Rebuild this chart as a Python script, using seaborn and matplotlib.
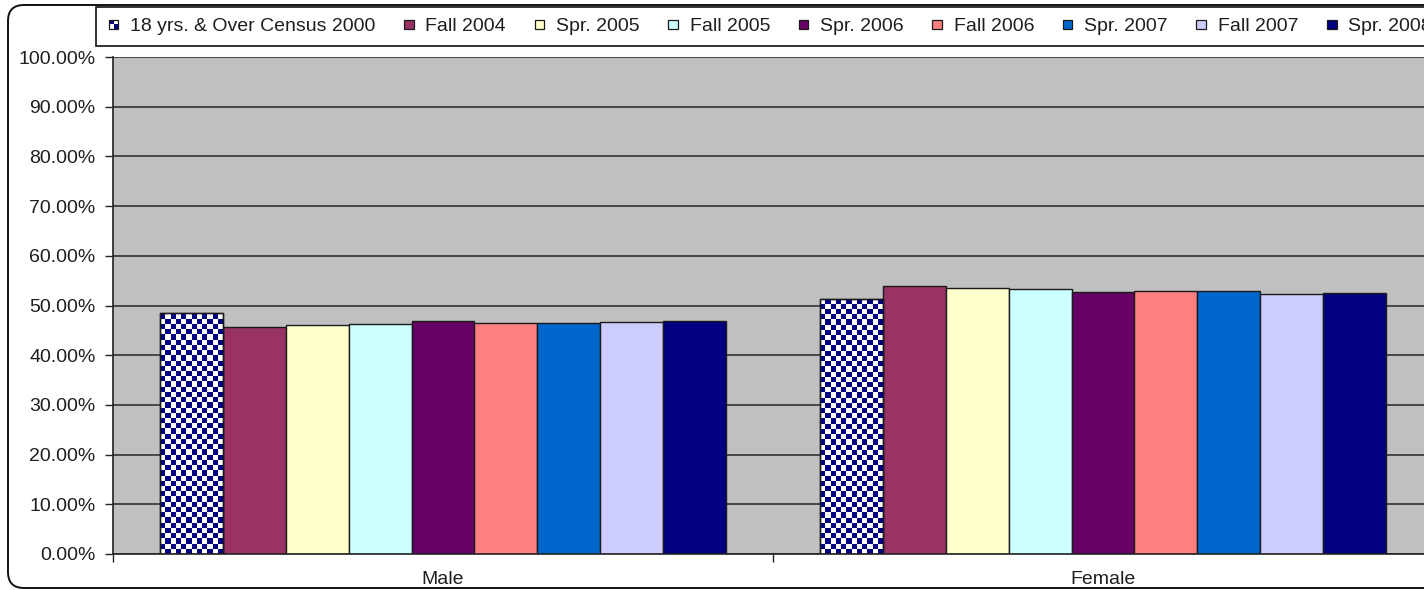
import numpy as np
import pandas as pd
import matplotlib
matplotlib.use('Agg')
import matplotlib.pyplot as plt
import seaborn as sns
from matplotlib.patches import Rectangle, FancyBboxPatch
from matplotlib.collections import PatchCollection
from matplotlib.legend_handler import HandlerBase
from matplotlib.ticker import PercentFormatter, FixedLocator
from matplotlib.transforms import IdentityTransform

# Gender share per survey wave (percent)
genders = ["Male", "Female"]
periods = ["18 yrs. & Over Census 2000", "Fall 2004", "Spr. 2005", "Fall 2005",
           "Spr. 2006", "Fall 2006", "Spr. 2007", "Fall 2007", "Spr. 2008"]
male = [48.4, 45.7, 46.0, 46.2, 46.8, 46.5, 46.5, 46.7, 46.8]
female = [51.4, 53.9, 53.6, 53.4, 52.8, 53.0, 52.9, 52.4, 52.6]

colors = ["#FFFFFF", "#993366", "#FFFFCC", "#CCFFFF", "#660066",
          "#FF8080", "#0066CC", "#CCCCFF", "#000080"]
navy = "#000080"

df = pd.DataFrame({
    "gender": np.repeat(genders, len(periods)),
    "period": periods * len(genders),
    "value": male + female,
})

sns.set_style("ticks")
plt.rcParams['font.family'] = ['Liberation Sans', 'DejaVu Sans']
text_col = "#1e1e1e"

fig = plt.figure(figsize=(14.24, 5.90), dpi=100)
ax = fig.add_axes([113 / 1424, 36 / 590, 1320 / 1424, 497 / 590])
ax.set_facecolor("#C0C0C0")

sns.barplot(data=df, x="gender", y="value", hue="period", order=genders,
            hue_order=periods, palette=colors, saturation=1, width=0.857,
            edgecolor="#1a1a1a", linewidth=1.0, legend=False, ax=ax)

ax.set_axisbelow(True)
ax.yaxis.grid(True, color="#333333", linewidth=1.2)
ax.xaxis.grid(False)
ax.set_xlim(-0.5, 1.5)
ax.set_ylim(0, 100)

# checkered fill for the census bars (navy squares on white)
fig.canvas.draw()
for bar in ax.containers[0]:
    x0, w, h = bar.get_x(), bar.get_width(), bar.get_height()
    p0 = ax.transData.transform((x0, 0))
    p1 = ax.transData.transform((x0 + w, h))
    ncol = max(int(round((p1[0] - p0[0]) / 5.2)), 1)
    nrow = max(int(round((p1[1] - p0[1]) / 5.2)), 1)
    cw, ch = w / ncol, h / nrow
    cells = [Rectangle((x0 + i * cw, j * ch), cw, ch)
             for i in range(ncol) for j in range(nrow) if (i + j) % 2 == 1]
    coll = PatchCollection(cells, facecolor=navy, edgecolor="none",
                           antialiased=False, zorder=2.5)
    ax.add_collection(coll)
    bar.set_facecolor("white")
    bar.set_zorder(2.2)
    ax.add_patch(Rectangle((x0, 0), w, h, facecolor="none", edgecolor="#1a1a1a",
                           linewidth=1.0, zorder=3))

ax.set_xlabel("")
ax.set_ylabel("")

ax.yaxis.set_major_locator(FixedLocator(np.arange(0, 101, 10)))
ax.yaxis.set_major_formatter(PercentFormatter(decimals=2))
ax.tick_params(axis="y", direction="out", length=5.5, width=1.0, color="#222222",
               pad=7, labelsize=14, labelcolor=text_col)
ax.set_xticks(range(len(genders)))
ax.set_xticklabels(genders)
ax.set_xticks([-0.5, 0.5, 1.5], minor=True)
ax.tick_params(axis="x", which="major", length=0, pad=12, labelsize=14,
               labelcolor=text_col)
ax.tick_params(axis="x", which="minor", direction="out", length=6, width=1.0,
               color="#222222")

for side in ["top", "right"]:
    ax.spines[side].set_visible(False)
for side in ["left", "bottom"]:
    ax.spines[side].set_color("#222222")
    ax.spines[side].set_linewidth(1.2)


class SquareHandler(HandlerBase):
    def __init__(self, checker=False):
        super().__init__()
        self.checker = checker

    def create_artists(self, legend, orig_handle, xdescent, ydescent,
                       width, height, fontsize, trans):
        s = 0.5 * fontsize
        x = width - s - xdescent
        y = (height - s) / 2 - ydescent
        arts = []
        if self.checker:
            half = s / 2
            for i in range(2):
                for j in range(2):
                    fc = navy if (i + j) % 2 == 0 else "white"
                    arts.append(Rectangle((x + i * half, y + (1 - j) * half), half, half,
                                          facecolor=fc, edgecolor="none", transform=trans))
        face = "none" if self.checker else orig_handle.get_facecolor()
        arts.append(Rectangle((x, y), s, s, facecolor=face, edgecolor="#1a1a1a",
                              linewidth=0.9, transform=trans))
        return arts


handles = [Rectangle((0, 0), 1, 1, facecolor=c) for c in colors]
handler_map = {h: SquareHandler(checker=(i == 0)) for i, h in enumerate(handles)}
leg = fig.legend(handles, periods, handler_map=handler_map, ncol=len(periods),
                 loc="upper left", bbox_to_anchor=(96 / 1424, 1 - 7 / 590),
                 borderaxespad=0, fontsize=14, frameon=True, fancybox=False,
                 edgecolor="#111111", facecolor="white", framealpha=1,
                 handlelength=0.6, handleheight=0.7, handletextpad=0.6,
                 columnspacing=1.37, borderpad=0.55, labelcolor=text_col)
leg.get_frame().set_linewidth(1.2)

# rounded outer chart border
border = FancyBboxPatch((8, 2), 1600, 583, boxstyle="round,pad=0,rounding_size=16",
                        transform=IdentityTransform(), facecolor="none",
                        edgecolor="#111111", linewidth=1.4)
fig.add_artist(border)

fig.savefig("out.png", dpi=100)
plt.close(fig)
